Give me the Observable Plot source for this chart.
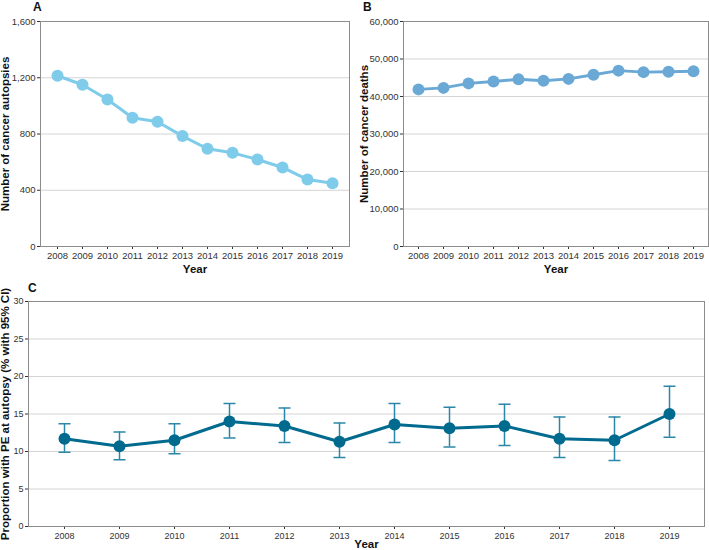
<!DOCTYPE html>
<html><head><meta charset="utf-8">
<script src="https://cdn.jsdelivr.net/npm/d3@7"></script>
<script src="https://cdn.jsdelivr.net/npm/@observablehq/plot@0.6"></script>
<style>
body{margin:0;background:#fff;}
#wrap{position:relative;width:709px;height:550px;font-family:"Liberation Sans",Arial,sans-serif;overflow:hidden;}
.panel{position:absolute;}
.tag{position:absolute;font-weight:bold;font-size:12px;line-height:12px;color:#111;}
svg g[aria-label="y-axis label"] text, svg g[aria-label="x-axis label"] text{font-weight:bold;font-size:11.5px;fill:#111;}
</style></head><body>
<div id="wrap">
  <div class="panel" id="pA" style="left:0;top:0"></div>
  <div class="panel" id="pB" style="left:355px;top:0"></div>
  <div class="panel" id="pC" style="left:0;top:275px"></div>
  <div class="tag" style="left:33px;top:1px">A</div>
  <div class="tag" style="left:363px;top:1px">B</div>
  <div class="tag" style="left:28px;top:282px">C</div>
</div>
<script>
const years = ["2008","2009","2010","2011","2012","2013","2014","2015","2016","2017","2018","2019"];
const autopsies = [1214,1150,1045,915,887,785,695,666,619,562,476,450];
const deaths = [41900,42300,43500,44000,44600,44200,44700,45800,46900,46500,46600,46750];
const pe = [11.7,10.7,11.5,14.0,13.4,11.3,13.6,13.1,13.4,11.7,11.5,15.0];
const peLow = [9.9,8.9,9.7,11.8,11.2,9.2,11.2,10.6,10.8,9.2,8.8,11.9];
const peHigh = [13.7,12.6,13.7,16.4,15.8,13.8,16.4,15.9,16.3,14.6,14.6,18.7];
const ticksA = [0,400,800,1200,1600];
const ticksB = [0,10000,20000,30000,40000,50000,60000];
const ticksC = [0,5,10,15,20,25,30];

const dataA = years.map((y,i)=>({year:y, v:autopsies[i]}));
const dataB = years.map((y,i)=>({year:y, v:deaths[i]}));
const dataC = years.map((y,i)=>({year:y, v:pe[i], lo:peLow[i], hi:peHigh[i]}));

const font = '"Liberation Sans",Arial,sans-serif';
const gridCol = "#d4d4d4";
const frameCol = "#8c8c8c";

const capSymbol = {draw(ctx, size){ const w = Math.sqrt(size/Math.PI); ctx.moveTo(-w,0); ctx.lineTo(w,0); }};

function panel({width,height,ml,mr,mt,mb,data,ticks,ylabel,color,labelOffsetY,fs,extra=[]}) {
  return Plot.plot({
    width, height, marginLeft:ml, marginRight:mr, marginTop:mt, marginBottom:mb,
    style:{fontFamily:font, fontSize:fs, color:"#333", background:"transparent"},
    x:{type:"point", domain:years, padding:0.6, label:"Year", labelAnchor:"center", labelArrow:"none", tickSize:3, tickPadding:3},
    y:{domain:[ticks[0], ticks[ticks.length-1]], ticks, label:ylabel, labelAnchor:"center", labelArrow:"none", tickSize:3, tickPadding:2, labelOffset:labelOffsetY},
    marks:[
      Plot.gridY(ticks.slice(1,-1), {stroke:gridCol, strokeOpacity:1}),
      Plot.frame({stroke:frameCol}),
      ...extra,
      Plot.line(data, {x:"year", y:"v", stroke:color, strokeWidth:3}),
      Plot.dot(data, {x:"year", y:"v", r:6, fill:color})
    ]
  });
}

document.getElementById("pA").append(panel({width:355,height:275,ml:40,mr:6,mt:21,mb:29,data:dataA,ticks:ticksA,
  ylabel:"Number of cancer autopsies",color:"#7ecbea",labelOffsetY:40,fs:"9.5px"}));
document.getElementById("pB").append(panel({width:354,height:275,ml:48,mr:1,mt:21,mb:29,data:dataB,ticks:ticksB,
  ylabel:"Number of cancer deaths",color:"#6aa9d6",labelOffsetY:44,fs:"9.5px"}));
document.getElementById("pC").append(panel({width:709,height:275,ml:28,mr:5,mt:26,mb:24,data:dataC,ticks:ticksC,
  ylabel:"Proportion with PE at autopsy (% with 95% CI)",color:"#006b8e",labelOffsetY:28,fs:"9px",
  extra:[
    Plot.ruleX(dataC, {x:"year", y1:"lo", y2:"hi", stroke:"#2b87a9", strokeWidth:1.5}),
    Plot.dot(dataC, {x:"year", y:"lo", r:6, symbol:capSymbol, stroke:"#2b87a9", strokeWidth:1.5}),
    Plot.dot(dataC, {x:"year", y:"hi", r:6, symbol:capSymbol, stroke:"#2b87a9", strokeWidth:1.5})
  ]}));
</script>
</body></html>
